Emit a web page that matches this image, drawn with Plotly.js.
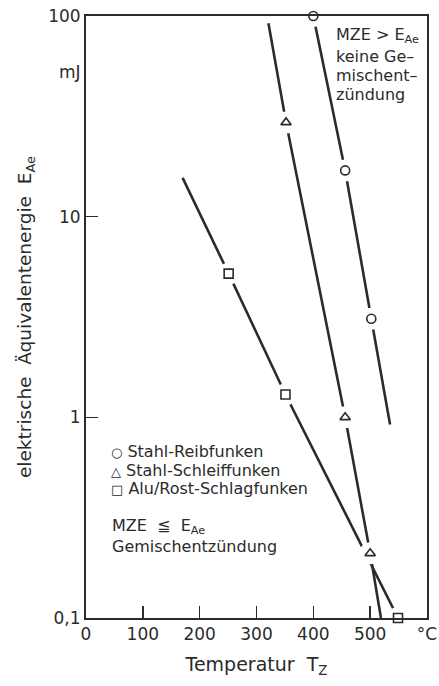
<!DOCTYPE html>
<html>
<head>
<meta charset="utf-8">
<script src="https://cdn.plot.ly/plotly-3.0.1.min.js"></script>
<style>html,body{margin:0;padding:0;background:#fff;}#chart{width:439px;height:686px;}</style>
</head>
<body>
<div id="chart"></div>
<script>
// Stahl-Reibfunken (circles)
const reibLineT = [400, 456, 502, 535];
const reibLineE = [100, 17, 3.1, 0.92];
const reibPtT = [400, 456, 502];
const reibPtE = [100, 17, 3.1];
// Stahl-Schleiffunken (triangles)
const schleifLineT = [321, 352, 456, 500, 519];
const schleifLineE = [92, 29.5, 1.0, 0.21, 0.1];
const schleifPtT = [352, 456, 500];
const schleifPtE = [29.5, 1.0, 0.21];
// Alu/Rost-Schlagfunken (squares)
const schlagLineT = [170, 251, 351, 549];
const schlagLineE = [15.6, 5.2, 1.3, 0.1];
const schlagPtT = [251, 351, 549];
const schlagPtE = [5.2, 1.3, 0.1];

const xTickVals = [0, 100, 200, 300, 400, 500, 600];
const xTickText = ['0', '100', '200', '300', '400', '500', '°C'];
const yTickVals = [0.1, 1, 10, 100];
const yTickText = ['0,1', '1', '10', '100'];

const INK = '#2b2b2b';
const FONT = 'DejaVu Sans';

function lineTrace(x, y) {
  return {x: x, y: y, mode: 'lines', type: 'scatter', showlegend: false,
          line: {color: INK, width: 2.6}, hoverinfo: 'skip', cliponaxis: false};
}
function backTrace(x, y) {
  return {x: x, y: y, mode: 'markers', type: 'scatter', showlegend: false,
          marker: {symbol: 'circle', size: 22, color: '#ffffff', line: {width: 0}},
          hoverinfo: 'skip', cliponaxis: false};
}
function markTrace(x, y, sym, size, name) {
  return {x: x, y: y, mode: 'markers', type: 'scatter', showlegend: false, name: name,
          marker: {symbol: sym, size: size, color: INK, line: {color: INK, width: 1.6}},
          cliponaxis: false};
}

const data = [
  lineTrace(reibLineT, reibLineE),
  lineTrace(schleifLineT, schleifLineE),
  lineTrace(schlagLineT, schlagLineE),
  backTrace(reibPtT, reibPtE),
  backTrace(schleifPtT, schleifPtE),
  backTrace(schlagPtT, schlagPtE),
  markTrace(reibPtT, reibPtE, 'circle-open', 9, 'Stahl-Reibfunken'),
  markTrace(schleifPtT, schleifPtE, 'triangle-up-open', 9, 'Stahl-Schleiffunken'),
  markTrace(schlagPtT, schlagPtE, 'square-open', 9, 'Alu/Rost-Schlagfunken')
];

function note(text, x, y) {
  return {text: text, xref: 'paper', yref: 'paper', x: x, y: y, xanchor: 'left', yanchor: 'middle',
          showarrow: false, align: 'left', font: {family: FONT, size: 16, color: INK}};
}
const sym = s => '<span style="font-size:13px">' + s + '</span>';

const layout = {
  width: 439, height: 686,
  margin: {l: 86, r: 12, t: 16, b: 68},
  paper_bgcolor: '#ffffff', plot_bgcolor: '#ffffff',
  font: {family: FONT, size: 17, color: INK},
  showlegend: false,
  xaxis: {
    range: [0, 600], tickvals: xTickVals, ticktext: xTickText,
    ticks: 'inside', ticklen: 12, tickwidth: 1.6, tickcolor: INK,
    showline: true, linewidth: 2, linecolor: INK, mirror: true,
    showgrid: false, zeroline: false,
    tickfont: {family: FONT, size: 17, color: INK},
    title: {text: 'Temperatur  T<sub>Z</sub>', font: {family: FONT, size: 19, color: INK}, standoff: 14}
  },
  yaxis: {
    type: 'log', range: [-1, 2], tickvals: yTickVals, ticktext: yTickText,
    ticks: 'inside', ticklen: 12, tickwidth: 1.6, tickcolor: INK,
    showline: true, linewidth: 2, linecolor: INK, mirror: true,
    showgrid: false, zeroline: false,
    tickfont: {family: FONT, size: 17, color: INK},
    title: {text: 'elektrische  Äquivalentenergie  E<sub>Ae</sub>', font: {family: FONT, size: 18.5, color: INK}, standoff: 12}
  },
  annotations: [
    {text: 'mJ', xref: 'paper', yref: 'y', x: 0, y: 1.72, xanchor: 'right', yanchor: 'middle', xshift: -3,
     showarrow: false, font: {family: FONT, size: 17, color: INK}},
    note('MZE &gt; E<sub>Ae</sub>', 0.727, 0.967),
    note('keine Ge–', 0.727, 0.932),
    note('mischent–', 0.727, 0.901),
    note('zündung', 0.727, 0.869),
    note(sym('○') + ' Stahl-Reibfunken', 0.066, 0.2774),
    note(sym('△') + ' Stahl-Schleiffunken', 0.066, 0.2458),
    note(sym('□') + ' Alu/Rost-Schlagfunken', 0.066, 0.2143),
    note('MZE  ≦  E<sub>Ae</sub>', 0.07, 0.1512),
    note('Gemischentzündung', 0.07, 0.1196)
  ]
};

Plotly.newPlot('chart', data, layout, {displayModeBar: false, staticPlot: true});
</script>
</body>
</html>
